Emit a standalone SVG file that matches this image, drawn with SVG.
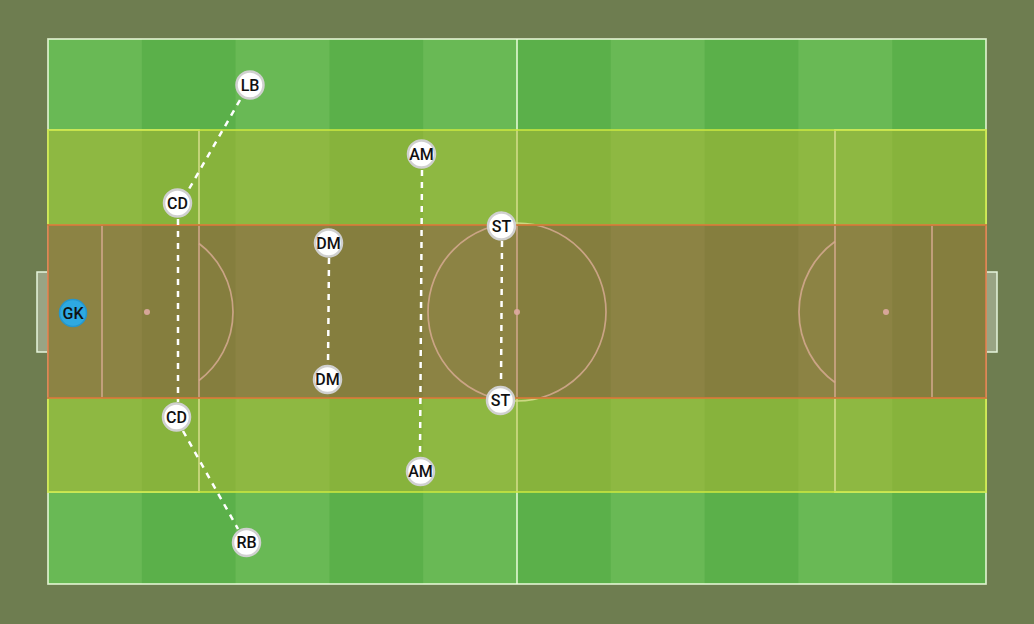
<svg xmlns="http://www.w3.org/2000/svg" width="1034" height="624" viewBox="0 0 1034 624">
  <defs>
    <pattern id="stripes" patternUnits="userSpaceOnUse" x="48" y="0" width="187.6" height="624">
      <rect x="0" y="0" width="93.8" height="624" fill="#69b955"/>
      <rect x="93.8" y="0" width="93.8" height="624" fill="#5bb04a"/>
    </pattern>
  </defs>
  <style>
    .line { fill: none; stroke: #f0ffe0; stroke-opacity: 0.85; stroke-width: 1.7; }
    .spot { fill: #ffffff; fill-opacity: 0.9; }
    .goal { fill: #ffffff; fill-opacity: 0.3; stroke: #e6f5dc; stroke-width: 1.5; }
    .zone-y { fill: rgb(189,183,45); fill-opacity: 0.45; stroke: #c8e640; stroke-width: 2; stroke-opacity: 0.8; }
    .zone-r { fill: rgb(183,67,49); fill-opacity: 0.45; stroke: #d0703a; stroke-width: 2; stroke-opacity: 0.8; }
    .link { fill: none; stroke: #ffffff; stroke-width: 2.5; stroke-dasharray: 6 6; }
    .player circle { fill: #ffffff; stroke: #d0d0d0; stroke-width: 2.5; }
    .player text, .gk text { font-family: Roboto, "Liberation Sans", Arial, sans-serif; font-size: 16px; font-weight: 500; text-anchor: middle; fill: #111111; }
    .gk circle { fill: #2ea9e1; stroke: #2596cc; stroke-width: 1.5; }
  </style>

  <!-- background -->
  <rect x="0" y="0" width="1034" height="624" fill="#6e7d50"/>

  <g id="pitch">
    <rect x="48" y="39" width="938" height="545" fill="url(#stripes)"/>
    <!-- markings -->
    <rect class="line" x="48" y="39" width="938" height="545"/>
    <line class="line" x1="517" y1="39" x2="517" y2="584"/>
    <circle class="line" cx="517" cy="312" r="89"/>
    <circle class="spot" cx="517" cy="312" r="3"/>
    <rect class="line" x="48" y="130" width="151" height="362"/>
    <rect class="line" x="48" y="225" width="54" height="173"/>
    <circle class="spot" cx="147" cy="312" r="3"/>
    <path class="line" d="M199,243.5 A86,86 0 0 1 199,380.5"/>
    <rect class="line" x="835" y="130" width="151" height="362"/>
    <rect class="line" x="932" y="225" width="54" height="173"/>
    <circle class="spot" cx="886" cy="312" r="3"/>
    <path class="line" d="M835,241.5 A87,87 0 0 0 835,382.5"/>
    <rect class="goal" x="37" y="272" width="11" height="80"/>
    <rect class="goal" x="986" y="272" width="11" height="80"/>
  </g>

  <g id="zones">
    <rect class="zone-y" x="48" y="130" width="938" height="95"/>
    <rect class="zone-y" x="48" y="398" width="938" height="94"/>
    <rect class="zone-r" x="48" y="225" width="938" height="173"/>
  </g>

  <g id="connectors">
    <line class="link" x1="240" y1="100" x2="189" y2="189"/>
    <line class="link" x1="178" y1="219" x2="178" y2="402"/>
    <line class="link" x1="183" y1="431" x2="238" y2="529"/>
    <line class="link" x1="329" y1="258" x2="328" y2="365"/>
    <line class="link" x1="422" y1="170" x2="420" y2="457"/>
    <line class="link" x1="502" y1="241" x2="501" y2="385"/>
  </g>

  <g id="gk" class="gk"><circle cx="73" cy="313" r="13.5"/><text x="73" y="318.5">GK</text></g>
  <g id="lb" class="player"><circle cx="250" cy="85" r="13.5"/><text x="250" y="90.5">LB</text></g>
  <g id="cd1" class="player"><circle cx="177.5" cy="203" r="13.5"/><text x="177.5" y="208.5">CD</text></g>
  <g id="cd2" class="player"><circle cx="176.5" cy="417" r="13.5"/><text x="176.5" y="422.5">CD</text></g>
  <g id="rb" class="player"><circle cx="246.5" cy="542.5" r="13.5"/><text x="246.5" y="548">RB</text></g>
  <g id="dm1" class="player"><circle cx="328.5" cy="243" r="13.5"/><text x="328.5" y="248.5">DM</text></g>
  <g id="dm2" class="player"><circle cx="327.5" cy="379.5" r="13.5"/><text x="327.5" y="385">DM</text></g>
  <g id="am1" class="player"><circle cx="421.5" cy="154" r="13.5"/><text x="421.5" y="159.5">AM</text></g>
  <g id="am2" class="player"><circle cx="420.5" cy="471.5" r="13.5"/><text x="420.5" y="477">AM</text></g>
  <g id="st1" class="player"><circle cx="501.5" cy="226" r="13.5"/><text x="501.5" y="231.5">ST</text></g>
  <g id="st2" class="player"><circle cx="500.5" cy="400.5" r="13.5"/><text x="500.5" y="406">ST</text></g>
</svg>
